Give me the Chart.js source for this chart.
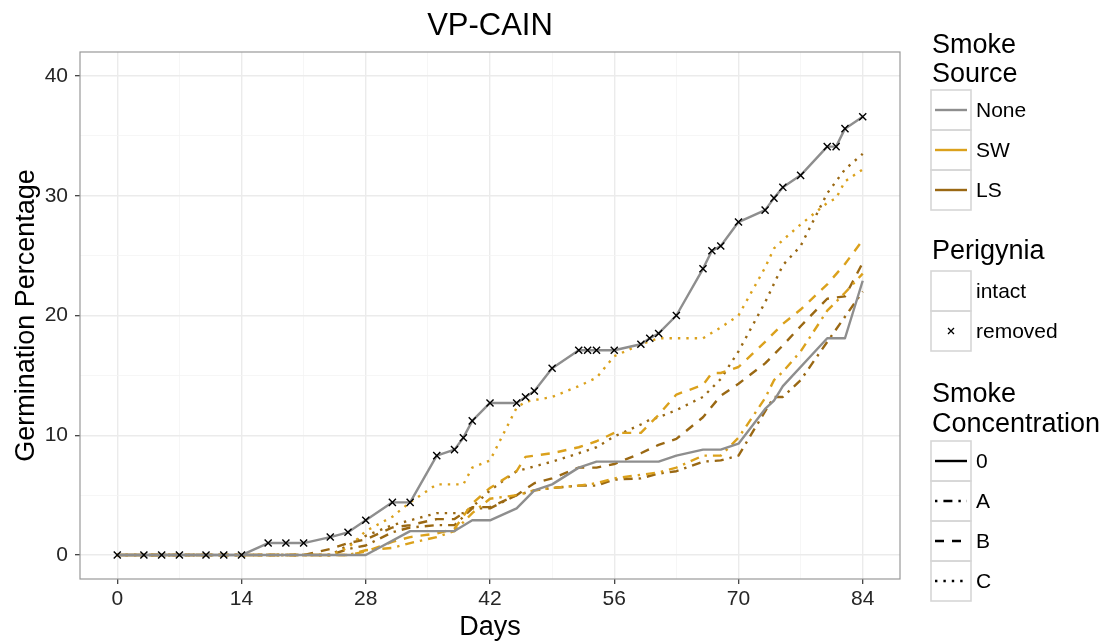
<!DOCTYPE html>
<html>
<head>
<meta charset="utf-8">
<title>VP-CAIN</title>
<script src="https://cdn.jsdelivr.net/npm/chart.js@4.4.1/dist/chart.umd.min.js"></script>
<style>
  html, body { margin: 0; padding: 0; background: #fff; }
  #wrap { position: relative; width: 1106px; height: 642px; }
</style>
</head>
<body>
<div id="wrap"><canvas id="germChart" width="1106" height="642"></canvas></div>
<script>
// cumulative germination (%) by day, as [day, pct]
const noneRemoved = [[0,0],[3,0],[5,0],[7,0],[10,0],[12,0],[14,0],[17,1.0],[19,1.0],[21,1.0],[24,1.5],[26,1.9],[28,2.9],[31,4.4],[33,4.4],[36,8.3],[38,8.8],[39,9.8],[40,11.2],[42,12.7],[45,12.7],[46,13.2],[47,13.7],[49,15.6],[52,17.1],[53,17.1],[54,17.1],[56,17.1],[59,17.6],[60,18.1],[61,18.5],[63,20.0],[66,23.9],[67,25.4],[68,25.8],[70,27.8],[73,28.8],[74,29.8],[75,30.7],[77,31.7],[80,34.1],[81,34.1],[82,35.6],[84,36.6]];
const noneIntact = [[0,0],[28,0],[33,2.0],[38,2.0],[40,2.9],[42,2.9],[45,3.9],[47,5.4],[49,5.9],[52,7.3],[54,7.8],[61,7.8],[63,8.3],[66,8.8],[68,8.8],[70,9.3],[73,12.2],[74,12.9],[75,14.1],[80,18.1],[82,18.1],[84,22.9]];
const swA = [[0,0],[26,0],[28,0.4],[31,0.6],[33,1.0],[36,1.5],[38,2.0],[40,3.5],[42,4.7],[45,5.0],[47,5.4],[49,5.6],[52,5.8],[54,6.0],[56,6.4],[59,6.7],[61,6.9],[63,7.3],[66,8.3],[68,8.3],[70,9.8],[73,13.1],[74,14.6],[75,15.3],[77,17.0],[80,20.4],[82,21.9],[84,23.5]];
const swB = [[0,0],[26,0],[28,0.3],[31,1.1],[33,1.5],[36,1.8],[38,2.2],[40,4.3],[42,5.6],[45,7.0],[46,8.2],[49,8.5],[52,9.0],[54,9.5],[56,10.2],[59,10.2],[61,11.7],[63,13.4],[66,14.2],[67,15.2],[68,15.2],[70,15.7],[73,17.8],[75,19.3],[77,20.5],[80,22.6],[82,24.3],[84,26.3]];
const swC = [[0,0],[24,0],[26,0.6],[28,2.0],[31,3.2],[33,4.4],[36,5.9],[39,5.9],[40,7.3],[42,7.9],[45,12.3],[46,12.8],[49,13.2],[52,14.1],[54,14.8],[56,16.6],[59,17.6],[61,18.1],[66,18.1],[68,19.0],[70,20.0],[73,24.0],[74,25.6],[75,26.3],[77,27.6],[80,29.4],[81,29.8],[82,31.2],[84,32.2]];
const lsA = [[0,0],[24,0],[26,0.5],[28,0.8],[31,1.9],[33,2.3],[36,2.5],[38,2.5],[40,3.9],[42,3.9],[45,5.0],[47,5.4],[49,5.6],[52,5.8],[54,5.8],[56,6.3],[59,6.4],[61,6.8],[63,7.0],[66,7.8],[68,7.9],[70,8.3],[73,12.0],[74,13.2],[75,13.2],[77,14.6],[80,17.8],[82,19.9],[84,22.0]];
const lsB = [[0,0],[21,0],[24,0.5],[26,1.0],[28,1.3],[31,2.3],[33,2.5],[36,3.0],[38,3.0],[40,4.0],[42,4.0],[45,5.0],[47,6.0],[49,6.4],[52,7.3],[54,7.3],[56,7.6],[59,8.5],[61,9.2],[63,9.7],[66,11.5],[68,13.3],[70,14.3],[73,16.0],[75,17.5],[77,19.1],[80,21.4],[82,21.6],[84,24.4]];
const lsC = [[0,0],[24,0],[26,0.8],[28,1.6],[31,2.5],[33,2.9],[36,3.5],[39,3.5],[40,4.0],[42,5.4],[45,7.0],[47,7.4],[49,7.8],[52,8.5],[54,9.0],[56,9.9],[59,10.9],[60,11.3],[61,11.5],[63,12.1],[66,13.2],[68,14.7],[70,17.0],[73,21.1],[75,24.2],[77,25.8],[80,30.2],[82,32.2],[84,33.5]];

const xTicks = [0, 7, 14, 21, 28, 35, 42, 49, 56, 63, 70, 77, 84];
const yTicks = [0, 5, 10, 15, 20, 25, 30, 35, 40];
const sourceLabels = ["None", "SW", "LS"];
const perigyniaLabels = ["intact", "removed"];
const concLabels = ["0", "A", "B", "C"];

const FONT = '"Liberation Sans", Arial, Helvetica, sans-serif';
const sourceColor = { None: "#8e8e8e", SW: "#dba11c", LS: "#9a6813" };
const concDash = { "0": [], A: [2.4, 6, 9, 6], B: [9, 8], C: [2.4, 6] };

const series = [
  { source: "None", conc: "0", removed: true, pts: noneRemoved },
  { source: "None", conc: "0", removed: false, pts: noneIntact },
  { source: "SW", conc: "A", removed: false, pts: swA },
  { source: "SW", conc: "B", removed: false, pts: swB },
  { source: "SW", conc: "C", removed: false, pts: swC },
  { source: "LS", conc: "A", removed: false, pts: lsA },
  { source: "LS", conc: "B", removed: false, pts: lsB },
  { source: "LS", conc: "C", removed: false, pts: lsC }
];

const datasets = series.map(s => ({
  label: s.source + " " + s.conc + (s.removed ? " removed" : " intact"),
  data: s.pts.map(([d, p]) => ({ x: d, y: p })),
  borderColor: sourceColor[s.source],
  borderWidth: 2.4,
  borderDash: concDash[s.conc],
  borderCapStyle: "butt",
  borderJoinStyle: "round",
  tension: 0,
  fill: false,
  pointStyle: "crossRot",
  pointRadius: s.removed ? 5 : 0,
  pointHoverRadius: s.removed ? 5 : 0,
  pointBorderColor: "#000",
  pointBorderWidth: 1.4
}));

function drawCross(ctx, x, y, r) {
  ctx.beginPath();
  ctx.moveTo(x - r, y - r); ctx.lineTo(x + r, y + r);
  ctx.moveTo(x - r, y + r); ctx.lineTo(x + r, y - r);
  ctx.stroke();
}

function keyBox(ctx, x, y) {
  ctx.strokeStyle = "#d6d6d6";
  ctx.lineWidth = 1.6;
  ctx.strokeRect(x, y, 40, 40);
}

// panel border, titles and the three legend blocks
const decorations = {
  id: "decorations",
  afterDraw(chart) {
    const { ctx, chartArea: a } = chart;
    ctx.save();
    ctx.strokeStyle = "#999";
    ctx.lineWidth = 1.2;
    ctx.strokeRect(a.left, a.top, a.right - a.left, a.bottom - a.top);

    ctx.fillStyle = "#000";
    ctx.textAlign = "center";
    ctx.textBaseline = "alphabetic";
    ctx.font = "31px " + FONT;
    ctx.fillText("VP-CAIN", (a.left + a.right) / 2, 35);
    ctx.font = "27px " + FONT;
    ctx.fillText("Days", (a.left + a.right) / 2, 635);
    ctx.save();
    ctx.translate(34, (a.top + a.bottom) / 2);
    ctx.rotate(-Math.PI / 2);
    ctx.fillText("Germination Percentage", 0, 0);
    ctx.restore();

    const kx = 931, tx = 932, lx = 976;
    ctx.textAlign = "left";
    ctx.font = "27px " + FONT;
    ctx.fillText("Smoke", tx, 53);
    ctx.fillText("Source", tx, 82);
    ctx.fillText("Perigynia", tx, 259);
    ctx.fillText("Smoke", tx, 402);
    ctx.fillText("Concentration", tx, 432);

    ctx.font = "21px " + FONT;
    ctx.textBaseline = "middle";
    sourceLabels.forEach((lab, i) => {
      const y = 90 + i * 40;
      keyBox(ctx, kx, y);
      ctx.strokeStyle = sourceColor[lab];
      ctx.lineWidth = 2.4;
      ctx.setLineDash([]);
      ctx.beginPath(); ctx.moveTo(kx + 4, y + 20); ctx.lineTo(kx + 36, y + 20); ctx.stroke();
      ctx.fillStyle = "#000";
      ctx.fillText(lab, lx, y + 21);
    });
    perigyniaLabels.forEach((lab, i) => {
      const y = 271 + i * 40;
      keyBox(ctx, kx, y);
      if (lab === "removed") {
        ctx.strokeStyle = "#000";
        ctx.lineWidth = 1.3;
        drawCross(ctx, kx + 20, y + 20, 3);
      }
      ctx.fillStyle = "#000";
      ctx.fillText(lab, lx, y + 21);
    });
    concLabels.forEach((lab, i) => {
      const y = 441 + i * 40;
      keyBox(ctx, kx, y);
      ctx.strokeStyle = "#000";
      ctx.lineWidth = 2.4;
      ctx.setLineDash(concDash[lab]);
      ctx.beginPath(); ctx.moveTo(kx + 4, y + 20); ctx.lineTo(kx + 36, y + 20); ctx.stroke();
      ctx.setLineDash([]);
      ctx.fillStyle = "#000";
      ctx.fillText(lab, lx, y + 21);
    });
    ctx.restore();
  }
};

const isMajor = (v, step) => Math.abs(v % step) < 1e-9;

function gridOpts(step) {
  return {
    color: c => (c.tick && isMajor(c.tick.value, step) ? "#ebebeb" : "#f4f4f4"),
    lineWidth: c => (c.tick && isMajor(c.tick.value, step) ? 1.4 : 0.8),
    tickColor: c => (c.tick && isMajor(c.tick.value, step) ? "#333" : "rgba(0,0,0,0)"),
    tickLength: 5,
    tickWidth: 1.2,
    drawTicks: true
  };
}

new Chart(document.getElementById("germChart"), {
  type: "line",
  data: { datasets: datasets },
  options: {
    responsive: false,
    animation: false,
    devicePixelRatio: 1,
    layout: { padding: { top: 52, right: 206, left: 0, bottom: 0 } },
    plugins: { legend: { display: false }, title: { display: false }, tooltip: { enabled: false } },
    scales: {
      x: {
        type: "linear",
        min: -4.2,
        max: 88.2,
        afterBuildTicks: s => { s.ticks = xTicks.map(v => ({ value: v })); },
        afterFit: s => { s.height = 63; },
        grid: gridOpts(14),
        border: { display: false },
        ticks: {
          autoSkip: false,
          maxRotation: 0,
          padding: 3,
          color: "#262626",
          font: { family: FONT, size: 21 },
          callback: v => (isMajor(v, 14) ? v : "")
        }
      },
      y: {
        type: "linear",
        min: -2,
        max: 42,
        afterBuildTicks: s => { s.ticks = yTicks.map(v => ({ value: v })); },
        afterFit: s => { s.width = 80; },
        grid: gridOpts(10),
        border: { display: false },
        ticks: {
          autoSkip: false,
          padding: 7,
          color: "#262626",
          font: { family: FONT, size: 21 },
          callback: v => (isMajor(v, 10) ? v : "")
        }
      }
    }
  },
  plugins: [decorations]
});
</script>
</body>
</html>
